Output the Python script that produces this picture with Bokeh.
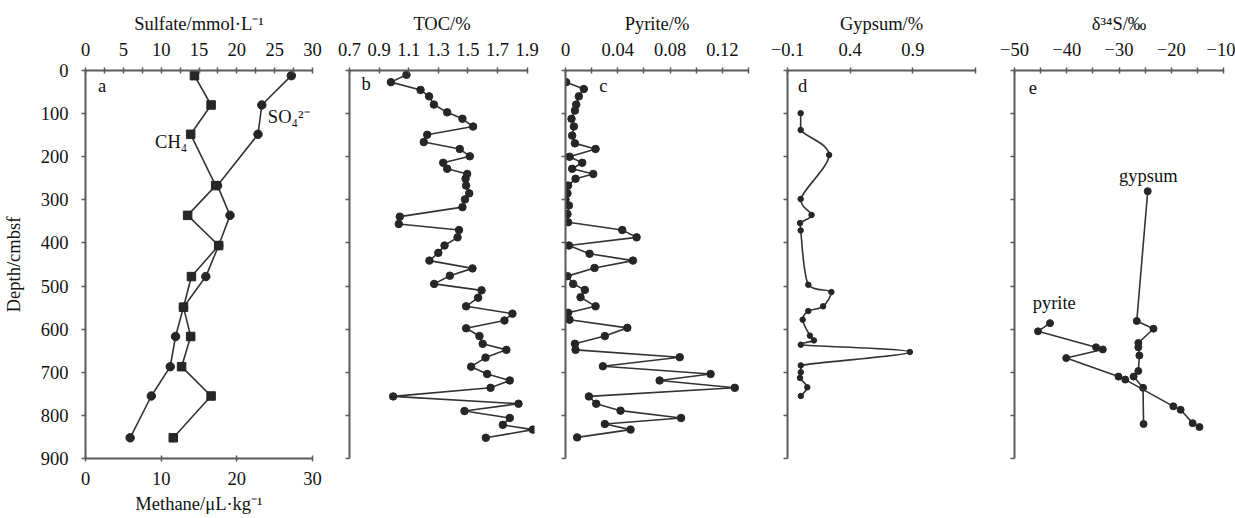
from bokeh.plotting import figure
from bokeh.models import Range1d, LinearAxis, FixedTicker, Label
from bokeh.layouts import row
from bokeh.embed import file_html
from bokeh.resources import INLINE

FONT = "Liberation Serif"
TXT = "#111111"
AX = "#5a5a5a"
LINE = "#333333"
MARK = "#262626"

depth_ticks = [0, 100, 200, 300, 400, 500, 600, 700, 800, 900]

# panel a: pore water
chem_depth = [12, 80, 148, 267, 336, 406, 478, 549, 617, 687, 755, 852]
sulfate = [27.2, 23.3, 22.8, 17.45, 19.1, 17.6, 15.9, 12.95, 11.9, 11.2, 8.7, 5.9]
methane = [14.4, 16.6, 13.9, 17.2, 13.5, 17.6, 14.0, 12.95, 13.9, 12.7, 16.6, 11.6]
sulfate_ticks = [0, 5, 10, 15, 20, 25, 30]
sulfate_minor = [2.5, 7.5, 12.5, 17.5, 22.5, 27.5]
methane_ticks = [0, 10, 20, 30]

# panel b: TOC
toc_depth = [10, 27, 45, 60, 79, 97, 112, 130, 149, 166, 182, 199, 214, 228, 240,
             251, 267, 285, 299, 317, 339, 356, 370, 387, 406, 423, 441, 459, 476, 495,
             510, 527, 547, 564, 580, 598, 616, 634, 648, 666, 687, 704, 719, 736, 756,
             773, 790, 806, 822, 833, 852]
toc = [1.085, 0.98, 1.18, 1.238, 1.27, 1.36, 1.463, 1.535, 1.225, 1.202, 1.445, 1.513,
       1.333, 1.36, 1.495, 1.484, 1.488, 1.509, 1.48, 1.463, 1.04, 1.033, 1.44, 1.43,
       1.342, 1.30, 1.24, 1.531, 1.378, 1.272, 1.592, 1.569, 1.488, 1.801, 1.747, 1.488,
       1.578, 1.60, 1.76, 1.619, 1.522, 1.63, 1.783, 1.653, 0.995, 1.842, 1.477, 1.783,
       1.736, 1.939, 1.621]
toc_ticks = [0.7, 0.9, 1.1, 1.3, 1.5, 1.7, 1.9]
toc_labels = ["0.7", "0.9", "1.1", "1.3", "1.5", "1.7", "1.9"]

# panel c: pyrite
pyr_depth = [27, 43, 60, 79, 93, 112, 130, 151, 169, 182, 200, 214, 228, 240, 251,
             267, 285, 299, 313, 333, 352, 370, 387, 406, 425, 441, 458, 477, 495, 509,
             526, 547, 562, 578, 597, 616, 634, 648, 665, 686, 704, 719, 736, 756, 773,
             789, 806, 820, 833, 851]
pyr = [0.0005, 0.014, 0.0102, 0.0082, 0.0072, 0.0046, 0.0064, 0.0051, 0.0072, 0.023,
       0.0031, 0.0128, 0.0051, 0.0212, 0.0077, 0.002, 0.0015, 0.0, 0.0026, 0.0015,
       0.002, 0.0434, 0.0544, 0.0026, 0.0184, 0.0516, 0.0222, 0.0015, 0.0059, 0.0148,
       0.0115, 0.023, 0.002, 0.0031, 0.0473, 0.0301, 0.0072, 0.0077, 0.0874, 0.0286,
       0.111, 0.072, 0.1295, 0.0179, 0.0235, 0.0421, 0.0884, 0.0301, 0.0498, 0.0089]
pyr_ticks = [0, 0.04, 0.08, 0.12]
pyr_labels = ["0", "0.04", "0.08", "0.12"]
pyr_minor = [0.02, 0.06, 0.10, 0.14]

# panel d: gypsum
gyp_depth = [99, 138, 196, 298, 335, 354, 371, 497, 514, 547, 558, 578, 615, 626,
             636, 653, 684, 700, 713, 735, 755]
gyp = [0.005, 0.005, 0.232, 0.005, 0.092, 0.0, 0.005, 0.066, 0.25, 0.184, 0.066,
       0.021, 0.079, 0.111, 0.006, 0.876, 0.006, 0.006, 0.0, 0.058, 0.006]
gyp_ticks = [-0.1, 0.4, 0.9, 1.4]
gyp_labels = ["\u22120.1", "0.4", "0.9", ""]

# panel e: d34S
d34_gyp_depth = [280, 581, 599, 632, 642, 661, 697, 710, 736, 820]
d34_gyp = [-24.5, -26.6, -23.4, -26.3, -26.3, -26.1, -26.3, -27.2, -25.4, -25.3]
d34_pyr_depth = [586, 605, 642, 647, 667, 710, 717, 779, 787, 818, 827]
d34_pyr = [-43.2, -45.5, -34.4, -33.1, -40.1, -30.1, -28.8, -19.6, -18.2, -15.9, -14.6]
d34_ticks = [-50, -40, -30, -20, -10]
d34_labels = ["\u221250", "\u221240", "\u221230", "\u221220", "\u221210"]
d34_minor = [-45, -35, -25, -15]


def style_axis(ax, tick_in, tick_out):
    ax.axis_line_color = AX
    ax.axis_line_width = 2
    ax.major_tick_line_color = AX
    ax.major_tick_line_width = 1.5
    ax.minor_tick_line_color = AX
    ax.minor_tick_line_width = 1.5
    ax.major_tick_in = tick_in
    ax.major_tick_out = tick_out
    ax.minor_tick_in = tick_in
    ax.minor_tick_out = tick_out
    ax.major_label_text_font = FONT
    ax.major_label_text_font_size = "18.5px"
    ax.major_label_text_color = TXT
    ax.axis_label_text_font = FONT
    ax.axis_label_text_font_size = "18.5px"
    ax.axis_label_text_font_style = "normal"
    ax.axis_label_text_color = TXT


def make_fig(width, left, right, xr, title, ticks, labels, minor, show_y):
    p = figure(width=width, height=518, x_range=Range1d(*xr), y_range=Range1d(900, 0),
               x_axis_location="above", output_backend="svg", toolbar_location=None,
               min_border_left=left, min_border_right=right,
               min_border_top=70, min_border_bottom=60)
    p.outline_line_color = None
    p.xgrid.visible = False
    p.ygrid.visible = False
    p.background_fill_color = "white"
    p.border_fill_color = "white"
    xa = p.xaxis[0]
    xa.ticker = FixedTicker(ticks=ticks, minor_ticks=minor)
    xa.major_label_overrides = {t: l for t, l in zip(ticks, labels)}
    xa.axis_label = title
    xa.major_label_standoff = 12
    xa.axis_label_standoff = 6
    style_axis(xa, 3, 3)
    ya = p.yaxis[0]
    ya.ticker = FixedTicker(ticks=depth_ticks)
    ya.major_label_standoff = 13
    ya.axis_label_standoff = 14
    style_axis(ya, 0, 4)
    if show_y:
        ya.axis_label = "Depth/cmbsf"
    else:
        ya.major_label_overrides = {t: "" for t in depth_ticks}
    return p


def panel_letter(p, x, y, txt):
    p.add_layout(Label(x=x, y=y, text=txt, text_font=FONT, text_font_size="18.5px",
                       text_color=TXT, text_align="center", text_baseline="middle"))


def clamp(v, a, b):
    lo, hi = min(a, b), max(a, b)
    return min(max(v, lo), hi)


def smooth_line(p, xs, ys, **kw):
    # smoothed polyline (Catmull-Rom segments as cubic Beziers, no overshoot)
    n = len(xs)
    seg = dict(x0=[], y0=[], x1=[], y1=[], cx0=[], cy0=[], cx1=[], cy1=[])
    for i in range(n - 1):
        a = max(i - 1, 0)
        b = min(i + 2, n - 1)
        x0, y0, x1, y1 = xs[i], ys[i], xs[i + 1], ys[i + 1]
        seg["x0"].append(x0); seg["y0"].append(y0)
        seg["x1"].append(x1); seg["y1"].append(y1)
        seg["cx0"].append(clamp(x0 + (x1 - xs[a]) / 6.0, x0, x1))
        seg["cy0"].append(clamp(y0 + (y1 - ys[a]) / 6.0, y0, y1))
        seg["cx1"].append(clamp(x1 - (xs[b] - x0) / 6.0, x0, x1))
        seg["cy1"].append(clamp(y1 - (ys[b] - y0) / 6.0, y0, y1))
    p.bezier(source=seg, x0="x0", y0="y0", x1="x1", y1="y1",
             cx0="cx0", cy0="cy0", cx1="cx1", cy1="cy1", **kw)


# ---- panel a
pa = make_fig(330, 83, 18, (0, 30), "Sulfate/mmol\u00b7L\u207b\u00b9",
              sulfate_ticks, [str(t) for t in sulfate_ticks], sulfate_minor, True)
bax = LinearAxis(ticker=FixedTicker(ticks=methane_ticks), axis_label="Methane/\u03bcL\u00b7kg\u207b\u00b9")
bax.major_label_standoff = 10
bax.axis_label_standoff = 6
style_axis(bax, 3, 3)
pa.add_layout(bax, "below")
pa.line(sulfate, chem_depth, line_color=LINE, line_width=1.6)
pa.scatter(sulfate, chem_depth, marker="circle", size=8.5, color=MARK)
pa.line(methane, chem_depth, line_color=LINE, line_width=1.6)
pa.scatter(methane, chem_depth, marker="square", size=8.5, color=MARK)
panel_letter(pa, 2.2, 35, "a")
pa.add_layout(Label(x=24.1, y=109, text="SO\u2084\u00b2\u207b", text_font=FONT, text_font_size="18.5px",
                    text_color=TXT, text_align="left", text_baseline="middle"))
pa.add_layout(Label(x=9.2, y=167, text="CH\u2084", text_font=FONT, text_font_size="18.5px",
                    text_color=TXT, text_align="left", text_baseline="middle"))

# ---- panel b
pb = make_fig(215, 19, 11, (0.7, 1.95), "TOC/%", toc_ticks, toc_labels, [], False)
pb.xaxis[0].bounds = (0.7, 1.9)
pb.line(toc, toc_depth, line_color=LINE, line_width=1.6)
pb.scatter(toc, toc_depth, marker="circle", size=7.5, color=MARK)
panel_letter(pb, 0.813, 31, "b")

# ---- panel c
pc = make_fig(222, 20, 19, (0, 0.14), "Pyrite/%", pyr_ticks, pyr_labels, pyr_minor, False)
pc.line(pyr, pyr_depth, line_color=LINE, line_width=1.6)
pc.scatter(pyr, pyr_depth, marker="circle", size=7.5, color=MARK)
panel_letter(pc, 0.0289, 35, "c")

# ---- panel d
pd_ = make_fig(228, 20, 20, (-0.1, 1.4), "Gypsum/%", gyp_ticks, gyp_labels, [], False)
smooth_line(pd_, gyp, gyp_depth, line_color=LINE, line_width=1.6)
pd_.scatter(gyp, gyp_depth, marker="circle", size=5.5, color=MARK)
panel_letter(pd_, 0.021, 35, "d")

# ---- panel e
pe = make_fig(240, 19, 12, (-50, -10), "\u03b4\u00b3\u2074S/\u2030", d34_ticks, d34_labels, d34_minor, False)
pe.line(d34_gyp, d34_gyp_depth, line_color=LINE, line_width=1.6)
pe.scatter(d34_gyp, d34_gyp_depth, marker="circle", size=7, color=MARK)
pe.line(d34_pyr, d34_pyr_depth, line_color=LINE, line_width=1.6)
pe.scatter(d34_pyr, d34_pyr_depth, marker="circle", size=7, color=MARK)
panel_letter(pe, -46.5, 40, "e")
pe.add_layout(Label(x=-24.4, y=244, text="gypsum", text_font=FONT, text_font_size="18.5px",
                    text_color=TXT, text_align="center", text_baseline="middle"))
pe.add_layout(Label(x=-42.4, y=540, text="pyrite", text_font=FONT, text_font_size="18.5px",
                    text_color=TXT, text_align="center", text_baseline="middle"))

layout = row(pa, pb, pc, pd_, pe)
open("out.html", "w").write(file_html(layout, INLINE))
